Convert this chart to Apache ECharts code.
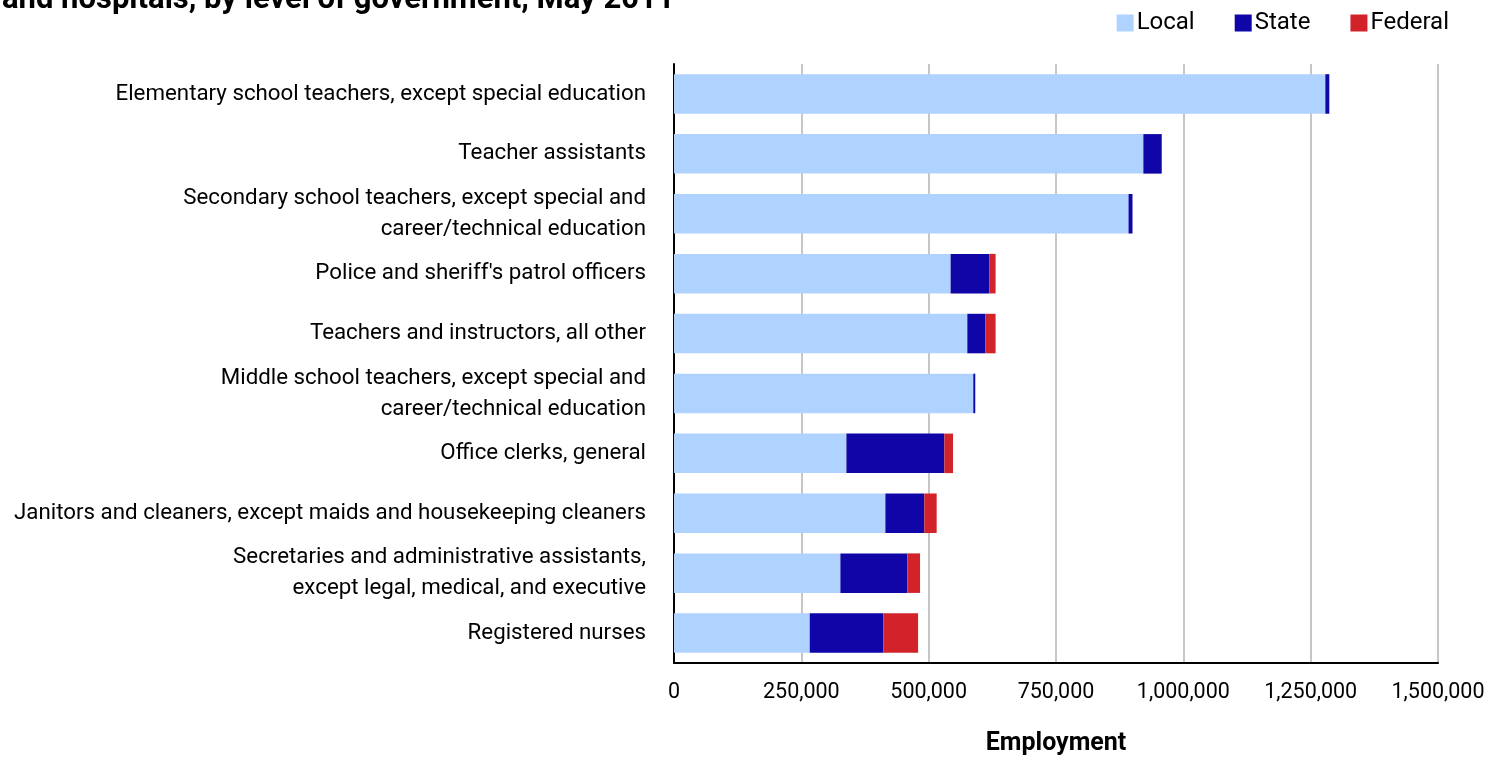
<!DOCTYPE html>
<html>
<head>
<meta charset="utf-8">
<script src="https://cdn.jsdelivr.net/npm/echarts@6/dist/echarts.min.js"></script>
<style>
html,body{margin:0;padding:0;background:#fff;}
#chart{width:1504px;height:757px;}
</style>
</head>
<body>
<div id="chart"></div>
<script>
const categories = [
  "Elementary school teachers, except special education",
  "Teacher assistants",
  "Secondary school teachers, except special and\ncareer/technical education",
  "Police and sheriff's patrol officers",
  "Teachers and instructors, all other",
  "Middle school teachers, except special and\ncareer/technical education",
  "Office clerks, general",
  "Janitors and cleaners, except maids and housekeeping cleaners",
  "Secretaries and administrative assistants,\nexcept legal, medical, and executive",
  "Registered nurses"
];
const localVals   = [1278800, 921500, 892400, 543100, 575900, 587600, 338500, 415000, 326700, 266500];
const stateVals   = [7800, 36100, 7800, 75900, 35300, 3900, 192300, 76500, 131500, 144600];
const federalVals = [0, 0, 0, 12400, 20200, 0, 17000, 24200, 24900, 68100];
const xTicks = [0, 250000, 500000, 750000, 1000000, 1250000, 1500000];

const FONT = "'Roboto', sans-serif";
const chart = echarts.init(document.getElementById('chart'), null, {renderer: 'canvas'});

function barSeries(name, data, color) {
  return {
    name: name, type: 'bar', stack: 'total', data: data,
    barWidth: '66%',
    itemStyle: {color: color},
    emphasis: {disabled: true}
  };
}

chart.setOption({
  animation: false,
  textStyle: {fontFamily: FONT},
  title: {
    text: 'and hospitals, by level of government, May 2011',
    left: -3, top: -20,
    textStyle: {fontFamily: FONT, fontSize: 31, fontWeight: 'bold', color: '#000'}
  },
  legend: {
    right: 50, top: 6,
    itemWidth: 17, itemHeight: 17, itemGap: 40,
    icon: 'rect',
    textStyle: {fontFamily: FONT, fontSize: 24, color: '#000', padding: [0,0,0,-2]},
    data: ['Local', 'State', 'Federal']
  },
  grid: {left: 674, right: 66, top: 64, bottom: 94, containLabel: false, outerBoundsMode: 'none'},
  xAxis: {
    type: 'value', min: xTicks[0], max: xTicks[xTicks.length-1], interval: xTicks[1]-xTicks[0],
    name: 'Employment', nameLocation: 'middle', nameGap: 68,
    nameTextStyle: {fontFamily: FONT, fontSize: 25, fontWeight: 'bold', color: '#000'},
    axisLine: {show: true, lineStyle: {color: '#000', width: 2}},
    axisTick: {show: false},
    splitLine: {show: true, lineStyle: {color: '#c6c6c6', width: 2}},
    axisLabel: {
      fontFamily: FONT, fontSize: 21.5, color: '#000', margin: 19,
      formatter: v => v.toLocaleString('en-US')
    }
  },
  yAxis: {
    type: 'category', data: categories, inverse: true,
    axisLine: {show: true, lineStyle: {color: '#000', width: 2}},
    axisTick: {show: false},
    axisLabel: {fontFamily: FONT, fontSize: 22.3, color: '#000', margin: 28, lineHeight: 31, align: 'right'}
  },
  series: [
    barSeries('Local', localVals, '#b0d2fe'),
    barSeries('State', stateVals, '#1006a8'),
    barSeries('Federal', federalVals, '#d2232a')
  ]
});
</script>
</body>
</html>
